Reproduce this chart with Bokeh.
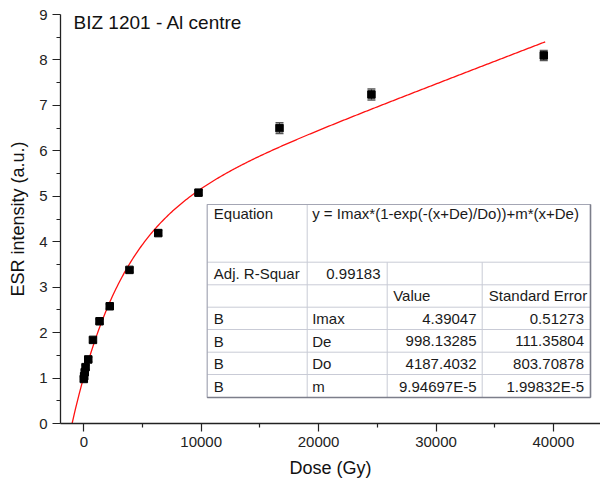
import numpy as np
from bokeh.plotting import figure
from bokeh.models import ColumnDataSource, Whisker, TeeHead, FixedTicker, BasicTickFormatter, Range1d
from bokeh.core.properties import value
from bokeh.embed import file_html
from bokeh.resources import INLINE

# ---------------- data ----------------
dose = [0, 30, 80, 150, 380, 780, 1340, 2210, 3890, 6340, 9770, 16670, 24500, 39180]
esr = [0.98, 1.04, 1.13, 1.24, 1.41, 1.84, 2.25, 2.58, 3.38, 4.19, 5.08, 6.50, 7.24, 8.10]
esr_err = [0.05, 0.05, 0.05, 0.05, 0.05, 0.05, 0.05, 0.05, 0.05, 0.06, 0.06, 0.12, 0.12, 0.11]

fit_names = ["Imax", "De", "Do", "m"]
fit_values = [4.39047, 998.13285, 4187.4032, 9.94697e-5]
fit_value_labels = ["4.39047", "998.13285", "4187.4032", "9.94697E-5"]
fit_error_labels = ["0.51273", "111.35804", "803.70878", "1.99832E-5"]
adj_r2_label = "0.99183"
equation_label = "y = Imax*(1-exp(-(x+De)/Do))+m*(x+De)"
fit_dose_end = 39300

x_ticks = [0, 10000, 20000, 30000, 40000]
x_minor = [5000, 15000, 25000, 35000]
y_ticks = [0, 1, 2, 3, 4, 5, 6, 7, 8, 9]
y_minor = [0.5, 1.5, 2.5, 3.5, 4.5, 5.5, 6.5, 7.5, 8.5]

title_text = "BIZ 1201 - Al centre"
x_label = "Dose (Gy)"
y_label = "ESR intensity (a.u.)"

# ---------------- layout ----------------
W, H = 600, 483
FL, FT, FW, FH = 60, 14, 540, 409
X0, X1 = -1985, 44012
Y0, Y1 = 0, 9
FONT = "Liberation Sans"


def px(page_x):
    return X0 + (page_x - FL) / FW * (X1 - X0)


def py(page_y):
    return Y1 - (page_y - FT) / FH * (Y1 - Y0)


p = figure(width=W, height=H, output_backend="svg", toolbar_location=None,
           x_range=Range1d(X0, X1), y_range=Range1d(Y0, Y1),
           min_border_left=FL, min_border_right=0, min_border_top=FT,
           min_border_bottom=H - FT - FH)
p.outline_line_color = None
p.grid.visible = False
p.background_fill_color = "white"
p.border_fill_color = "white"

for ax in (p.xaxis[0], p.yaxis[0]):
    ax.axis_line_color = "#222222"
    ax.axis_line_width = 1.3
    ax.major_tick_line_color = "#222222"
    ax.minor_tick_line_color = "#222222"
    ax.major_tick_line_width = 1.2
    ax.minor_tick_line_width = 1.2
    ax.major_tick_in = 0
    ax.major_tick_out = 8
    ax.minor_tick_in = 0
    ax.minor_tick_out = 4
    ax.major_label_text_font = FONT
    ax.major_label_text_font_size = "15px"
    ax.major_label_text_color = "#222222"
    ax.axis_label_text_font = FONT
    ax.axis_label_text_font_size = "18px"
    ax.axis_label_text_font_style = "normal"
    ax.axis_label_text_color = "#111111"
    ax.major_label_standoff = 5

p.xaxis[0].ticker = FixedTicker(ticks=x_ticks, minor_ticks=x_minor)
p.yaxis[0].ticker = FixedTicker(ticks=y_ticks, minor_ticks=y_minor)
p.xaxis[0].formatter = BasicTickFormatter(use_scientific=False)
p.xaxis.axis_label = x_label
p.yaxis.axis_label = y_label
p.xaxis.axis_label_standoff = 8
p.yaxis.axis_label_standoff = 8

# ---------------- fit curve ----------------
Imax, De, Do, m = fit_values
fx = np.linspace(-De, fit_dose_end, 400)
fy = Imax * (1 - np.exp(-(fx + De) / Do)) + m * (fx + De)
p.line(fx, fy, line_color="#ff1010", line_width=1.3)

# ---------------- data points ----------------
lower = [v - e for v, e in zip(esr, esr_err)]
upper = [v + e for v, e in zip(esr, esr_err)]
src = ColumnDataSource(dict(x=dose, y=esr, lower=lower, upper=upper))
wh = Whisker(source=src, base="x", lower="lower", upper="upper",
             line_color="#444444", line_width=1,
             upper_head=TeeHead(size=8, line_color="#555555", line_width=1.5),
             lower_head=TeeHead(size=8, line_color="#555555", line_width=1.5))
p.add_layout(wh)
p.scatter("x", "y", source=src, marker="square", size=7.5, fill_color="black",
          line_color="black")

# ---------------- title ----------------
p.text(x=[px(73)], y=[py(22)], text=[title_text], text_align="left",
       text_baseline="middle", text_font=value(FONT), text_font_size="19px",
       text_color="#111111")

# ---------------- results table ----------------
tl, tr, tt, tb = 206.7, 590, 204, 397
rows = [204, 261.7, 284.3, 306.7, 329, 351.7, 374, 397]
cols = [206.7, 306.7, 386.7, 481.7, 590]

p.quad(left=[px(tl)], right=[px(tr)], top=[py(tt)], bottom=[py(tb)],
       fill_color="white", line_color=None)
# horizontal inner lines
hx0, hx1, hy = [], [], []
for r in rows[1:-1]:
    hx0.append(px(tl)); hx1.append(px(tr)); hy.append(py(r))
p.segment(x0=hx0, x1=hx1, y0=hy, y1=hy, line_color="#c9cbd6", line_width=1)
# vertical inner lines
vx, vy0, vy1 = [px(cols[1])], [py(rows[0])], [py(rows[-1])]
for c in cols[2:4]:
    vx.append(px(c)); vy0.append(py(rows[1])); vy1.append(py(rows[-1]))
p.segment(x0=vx, x1=vx, y0=vy0, y1=vy1, line_color="#c9cbd6", line_width=1)
# outer border
p.quad(left=[px(tl)], right=[px(tr)], top=[py(tt)], bottom=[py(tb)],
       fill_color=None, line_color="#a4a6b4", line_width=1.2)
p.segment(x0=[px(tr), px(tl)], x1=[px(tr), px(tr)], y0=[py(tt), py(tb)],
          y1=[py(tb), py(tb)], line_color="#7c7e8a", line_width=1.5)

tfont = dict(text_font=value(FONT), text_font_size="15px", text_color="#1a1a1a",
             text_baseline="middle")
row_c = [318.3, 340.7, 363.3, 385.7]
# left-aligned texts
lt_x = [213.3, 311.7, 213.3, 392.7, 488.3]
lt_y = [213.3, 213.3, 273.3, 295.0, 295.0]
lt_t = ["Equation", equation_label, "Adj. R-Squar", "Value", "Standard Error"]
for yc, name in zip(row_c, fit_names):
    lt_x += [213.3, 311.7]
    lt_y += [yc, yc]
    lt_t += ["B", name]
p.text(x=[px(v) for v in lt_x], y=[py(v) for v in lt_y], text=lt_t,
       text_align="left", **tfont)
# right-aligned texts
rt_x = [380.0] + [476.0] * 4 + [583.5] * 4
rt_y = [273.3] + row_c + row_c
rt_t = [adj_r2_label] + fit_value_labels + fit_error_labels
p.text(x=[px(v) for v in rt_x], y=[py(v) for v in rt_y], text=rt_t,
       text_align="right", **tfont)

open("out.html", "w").write(file_html(p, INLINE))
